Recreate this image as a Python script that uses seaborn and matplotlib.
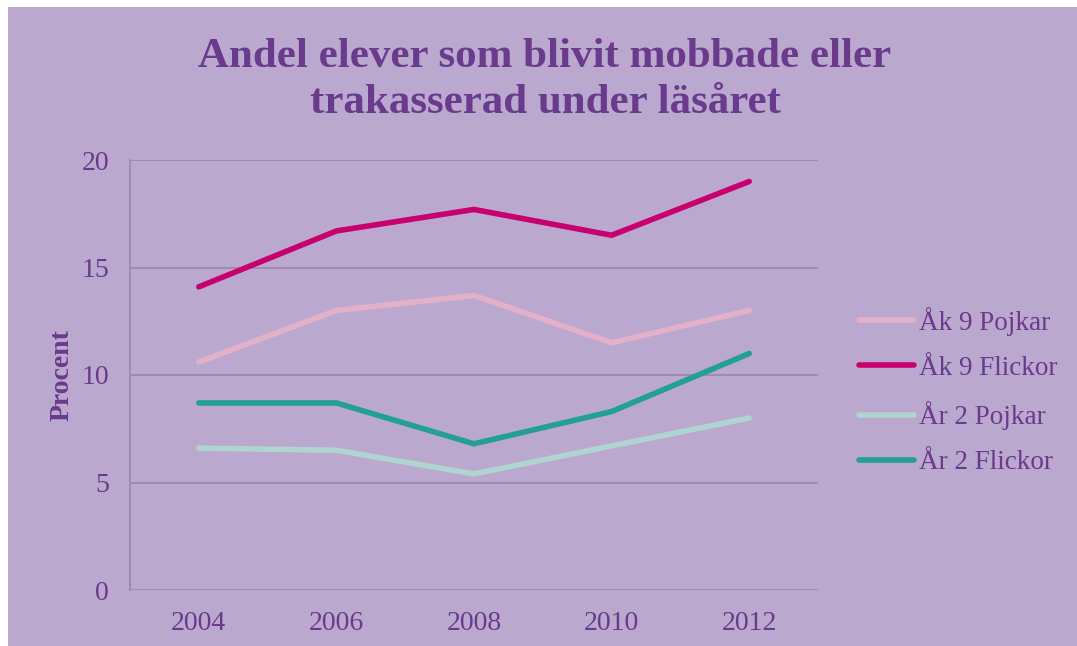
import matplotlib
matplotlib.use("Agg")
import matplotlib.pyplot as plt
import matplotlib.patches as mpatches
import seaborn as sns
import pandas as pd

years = ["2004", "2006", "2008", "2010", "2012"]
series_names = ["Åk 9 Pojkar", "Åk 9 Flickor", "År 2 Pojkar", "År 2 Flickor"]
ak9_pojkar = [10.6, 13.0, 13.7, 11.5, 13.0]
ak9_flickor = [14.1, 16.7, 17.7, 16.5, 19.0]
ar2_pojkar = [6.6, 6.5, 5.4, 6.7, 8.0]
ar2_flickor = [8.7, 8.7, 6.8, 8.3, 11.0]
colors = ["#E2B1C8", "#C8006E", "#B0D4D0", "#22A091"]

values = [ak9_pojkar, ak9_flickor, ar2_pojkar, ar2_flickor]
rows = []
for name, vals in zip(series_names, values):
    for i, (yr, v) in enumerate(zip(years, vals)):
        rows.append({"pos": i, "year": yr, "series": name, "value": v})
df = pd.DataFrame(rows)

sns.set_theme(style="white")
plt.rcParams["font.family"] = ["Liberation Serif", "DejaVu Serif"]

BG = "#BAA8CF"
TXT = "#6A3A8C"
GRID = "#9D88B3"

W, H = 1077, 646
fig = plt.figure(figsize=(W / 100, H / 100), dpi=100)
fig.patch.set_facecolor("white")
fig.patches.append(mpatches.Rectangle((8 / W, 0), 1 - 8 / W, 1 - 7 / H,
                                      transform=fig.transFigure, facecolor=BG,
                                      edgecolor="none", zorder=-10))

ax = fig.add_axes([130 / W, 1 - 590 / H, (818 - 130) / W, (590 - 160) / H])
ax.set_facecolor(BG)

sns.lineplot(data=df, x="pos", y="value", hue="series", hue_order=series_names,
             palette=colors, linewidth=4.0, ax=ax, legend=True, sort=False,
             solid_capstyle="round")

ax.set_xlim(-0.5, len(years) - 0.5)
ax.set_ylim(0, 20)
ax.set_xticks(range(len(years)))
ax.set_xticklabels(years)
ax.set_yticks([0, 5, 10, 15, 20])
ax.tick_params(axis="both", length=0, labelsize=20, colors=TXT)
ax.tick_params(axis="y", pad=15)
ax.tick_params(axis="x", pad=15)
for lab in ax.get_xticklabels() + ax.get_yticklabels():
    lab.set_color(TXT)

ax.yaxis.grid(True, color=GRID, linewidth=1.3)
ax.set_axisbelow(True)
for s in ["top", "right", "bottom"]:
    ax.spines[s].set_visible(False)
ax.spines["left"].set_color(GRID)
ax.spines["left"].set_linewidth(1.3)

ax.set_xlabel("")
ax.set_ylabel("Procent", fontsize=20, fontweight="bold", color=TXT, labelpad=5)

fig.text(545 / W, 1 - 80 / H, "Andel elever som blivit mobbade eller\ntrakasserad under läsåret",
         ha="center", va="center", fontsize=31, fontweight="bold", color=TXT,
         linespacing=1.28)

leg = ax.legend(loc="center left", bbox_to_anchor=(835 / W, 1 - 391 / H),
                bbox_transform=fig.transFigure, frameon=False, fontsize=19.5,
                handlelength=2.0, handletextpad=0.2, labelspacing=0.75)
for t in leg.get_texts():
    t.set_color(TXT)
for l in leg.get_lines():
    l.set_linewidth(4.0)
    l.set_solid_capstyle("round")

fig.savefig("out.png", dpi=100, facecolor=fig.get_facecolor())
